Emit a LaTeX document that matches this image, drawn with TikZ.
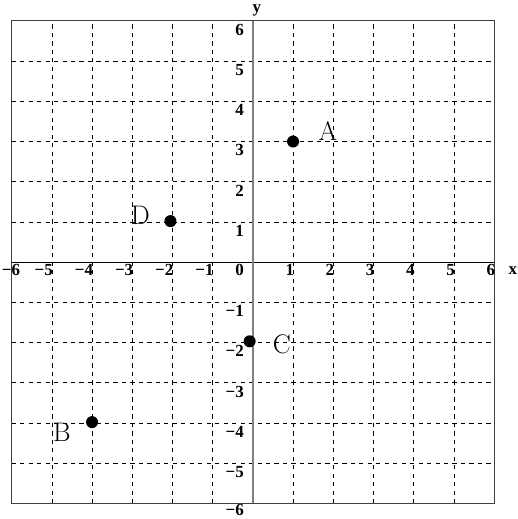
\documentclass[tikz,border=0pt]{standalone}
\usepackage{fontspec}
\newfontfamily\tickfont{Liberation Serif}
\begin{document}
\begin{tikzpicture}[x=1cm,y=1cm,
  gridline/.style={black,line width=0.5pt,dash pattern=on 3pt off 3pt},
  frameline/.style={draw=black!75,line width=0.8pt},
  tick/.style={font=\tickfont\bfseries\fontsize{12}{14}\selectfont,inner sep=0pt},
  ptdot/.style={circle,fill=black,minimum size=0.3cm,inner sep=0pt},
  ptlabel/.style={font=\fontsize{19}{22}\selectfont,inner sep=0pt}]
\useasboundingbox (-6.29,-6.39) rectangle (6.59,6.52);
% grid
\foreach \i in {-5,...,5} {
  \draw[gridline] (\i,-6) -- (\i,6);
  \draw[gridline] (-6,\i) -- (6,\i);
}
\draw[frameline] (-6,-6) rectangle (6,6);
% axes
\draw[black,line width=0.7pt] (-6,0) -- (6,0);
\draw[black!50,line width=1.2pt] (0,-6) -- (0,6);
% axis names
\node[tick] (xname) at (6.47,-0.2) {x};
\node[tick] (yname) at (0.1,6.27) {y};
% tick labels
\foreach \i/\t in {-5/−5,-4/−4,-3/−3,-2/−2,-1/−1,1/1,2/2,3/3,4/4,5/5,6/6} {
  \node[tick,anchor=north east] (tx\i) at (\i+0.03,-0.05) {\t};
}
\node[tick,anchor=north west] (tx-6) at (-6.25,-0.05) {−6};
\foreach \i/\t in {-5/−5,-4/−4,-3/−3,-2/−2,-1/−1,1/1,2/2,3/3,4/4,5/5,6/6} {
  \node[tick,anchor=north east] (ty\i) at (-0.22,\i-0.07) {\t};
}
\node[tick,anchor=north east] (ty-6) at (-0.22,-6.01) {−6};
\node[tick,anchor=north east] (t0) at (-0.22,-0.05) {0};
% points
\node[ptdot] (A) at (1,3) {};
\node[ptdot] (B) at (-4,-3.98) {};
\node[ptdot] (C) at (-0.08,-1.97) {};
\node[ptdot] (D) at (-2.05,1.02) {};
\node[ptlabel] (lA) at (1.87,3.25) {A};
\node[ptlabel] (lB) at (-4.75,-4.23) {B};
\node[ptlabel] (lC) at (0.72,-2.04) {C};
\node[ptlabel] (lD) at (-2.8,1.17) {D};
\end{tikzpicture}
\end{document}
